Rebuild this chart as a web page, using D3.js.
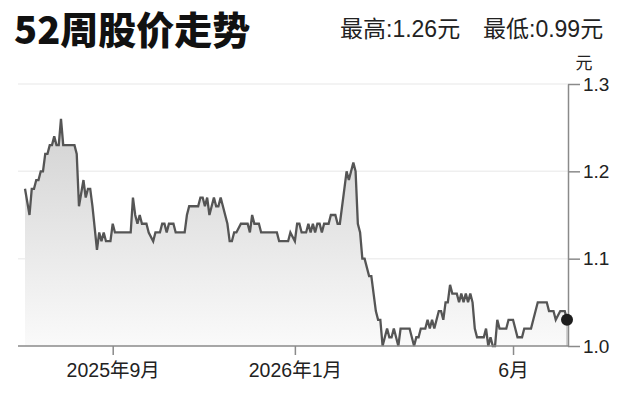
<!DOCTYPE html>
<html><head><meta charset="utf-8">
<script src="https://cdn.jsdelivr.net/npm/d3@7"></script>
<style>body{margin:0;background:#fff;} svg{display:block;}</style>
</head><body><svg id="c" width="626" height="417"></svg>
<script>
// trading-day index (from the first day of the 52-week window) and closing price, yuan
const days = [0,2,3,4,5,6,7,8,9,10,11,12,13,14,15,16,17,22,23,24,26,27,28,29,30,32,33,34,35,36,38,39,40,47,48,49,50,51,52,54,55,57,58,60,61,62,63,64,66,67,71,72,73,77,78,79,80,81,82,84,85,86,87,88,90,91,92,93,94,96,99,100,101,102,104,105,112,113,117,118,120,121,122,123,125,126,127,128,129,130,131,132,133,135,136,138,139,140,142,143,144,145,146,147,148,149,150,151,153,154,155,156,157,158,159,160,161,162,163,164,165,166,167,171,173,174,175,176,178,179,180,181,182,183,184,185,186,187,188,189,190,192,193,194,195,196,197,198,199,200,201,204,205,206,207,208,209,210,211,214,215,217,219,221,222,225,226,228,232,233,235,236,238,240,241];
const closes = [1.18,1.15,1.18,1.18,1.19,1.19,1.20,1.20,1.22,1.22,1.23,1.23,1.24,1.23,1.23,1.26,1.23,1.23,1.22,1.16,1.19,1.17,1.18,1.18,1.16,1.11,1.13,1.12,1.13,1.12,1.12,1.14,1.13,1.13,1.17,1.15,1.14,1.15,1.14,1.14,1.13,1.12,1.13,1.13,1.14,1.14,1.13,1.14,1.14,1.13,1.13,1.15,1.16,1.16,1.17,1.17,1.16,1.17,1.15,1.17,1.16,1.16,1.17,1.16,1.14,1.12,1.12,1.13,1.13,1.14,1.14,1.13,1.15,1.14,1.14,1.13,1.13,1.12,1.12,1.13,1.12,1.14,1.14,1.13,1.13,1.14,1.13,1.14,1.13,1.14,1.14,1.13,1.14,1.14,1.15,1.15,1.14,1.14,1.18,1.20,1.19,1.20,1.21,1.20,1.14,1.13,1.10,1.10,1.08,1.08,1.06,1.04,1.03,1.03,1.00,1.01,1.02,1.01,1.01,1.02,1.01,1.00,1.02,1.02,1.00,1.01,1.01,1.02,1.02,1.03,1.02,1.03,1.02,1.03,1.04,1.04,1.03,1.05,1.05,1.07,1.06,1.06,1.05,1.06,1.05,1.06,1.05,1.06,1.05,1.02,1.01,1.01,1.02,1.00,1.01,1.00,1.00,1.03,1.02,1.02,1.03,1.03,1.01,1.01,1.02,1.02,1.03,1.05,1.05,1.04,1.04,1.03,1.04,1.04,1.03];
const yTicks = [1.0, 1.1, 1.2, 1.3];
const yTickLabels = ["1.0", "1.1", "1.2", "1.3"];
const xTickDays = [39, 120, 217];
const xTickLabels = ["2025年9月", "2026年1月", "6月"];
const titleText = "52周股价走势";
const highText = "最高:1.26元";
const lowText = "最低:0.99元";
const unitText = "元";

const data = days.map((d, i) => ({d, v: closes[i]}));
const lastDay = days[days.length - 1];

const svg = d3.select("#c");
const FONT = "'Liberation Sans','Noto Sans CJK SC',sans-serif";
const x = d3.scaleLinear().domain([0, lastDay]).range([25, 567]);
const y = d3.scaleLinear().domain([1.0, 1.3]).range([346, 84]);
const axisX = 568;

// gradient
const defs = svg.append("defs");
const grad = defs.append("linearGradient").attr("id", "g")
  .attr("gradientUnits", "userSpaceOnUse")
  .attr("x1", 0).attr("x2", 0).attr("y1", y(1.26)).attr("y2", y(1.0));
grad.append("stop").attr("offset", "0%").attr("stop-color", "#d2d2d2");
grad.append("stop").attr("offset", "100%").attr("stop-color", "#fafafa");

// grid
svg.append("g").selectAll("line").data(yTicks.filter(t => t > 1.0)).join("line")
  .attr("x1", 18).attr("x2", axisX)
  .attr("y1", d => y(d)).attr("y2", d => y(d))
  .attr("stroke", "#efefef").attr("stroke-width", 1.5);

// area
svg.append("path").datum(data)
  .attr("d", d3.area().x(p => x(p.d)).y0(y(1.0)).y1(p => y(p.v)))
  .attr("fill", "url(#g)");

// drop line from last point
const last = data[data.length - 1];
svg.append("line").attr("x1", x(last.d)).attr("x2", x(last.d))
  .attr("y1", y(last.v)).attr("y2", y(1.0))
  .attr("stroke", "#c4c4c4").attr("stroke-width", 1.5);

// line
svg.append("path").datum(data)
  .attr("d", d3.line().x(p => x(p.d)).y(p => y(p.v)))
  .attr("fill", "none").attr("stroke", "#555").attr("stroke-width", 2.3)
  .attr("stroke-linejoin", "miter");

// baseline
svg.append("line").attr("x1", 18).attr("x2", axisX)
  .attr("y1", y(1.0)).attr("y2", y(1.0))
  .attr("stroke", "#8a8a8a").attr("stroke-width", 1.5);

// y axis
const yAxis = svg.append("g").attr("transform", `translate(${axisX},0)`)
  .call(d3.axisRight(y).tickValues(yTicks).tickFormat((d, i) => yTickLabels[i])
    .tickSize(12).tickSizeOuter(0).tickPadding(3));
yAxis.select(".domain").attr("stroke", "#8a8a8a").attr("stroke-width", 1.5);
yAxis.selectAll(".tick line").attr("stroke", "#8a8a8a").attr("stroke-width", 1.5);
yAxis.selectAll(".tick text").attr("fill", "#222").style("font-family", FONT).style("font-size", "19px");

// x axis
const xAxis = svg.append("g").attr("transform", `translate(0,${y(1.0)})`)
  .call(d3.axisBottom(x).tickValues(xTickDays).tickFormat((d, i) => xTickLabels[i])
    .tickSize(9).tickSizeOuter(0).tickPadding(8));
xAxis.select(".domain").remove();
xAxis.selectAll(".tick line").attr("stroke", "#8a8a8a").attr("stroke-width", 1.5);
xAxis.selectAll(".tick text").attr("fill", "#222").style("font-family", FONT).style("font-size", "19.5px");

// last point dot
svg.append("circle").attr("cx", x(last.d)).attr("cy", y(last.v)).attr("r", 6).attr("fill", "#1e1e1e");

// unit
svg.append("text").attr("x", 584).attr("y", 69).attr("text-anchor", "middle")
  .attr("fill", "#222").style("font-family", FONT).style("font-size", "17px").text(unitText);

// title
svg.append("text").attr("x", 14).attr("y", 44)
  .attr("fill", "#111").style("font-family", "'Noto Sans CJK SC',sans-serif")
  .style("font-weight", 900).style("font-size", "38px").text(titleText);

// high / low
svg.append("text").attr("x", 340).attr("y", 37)
  .attr("fill", "#222").style("font-family", FONT).style("font-size", "23px").text(highText);
svg.append("text").attr("x", 483).attr("y", 37)
  .attr("fill", "#222").style("font-family", FONT).style("font-size", "23px").text(lowText);
</script>
</body></html>
